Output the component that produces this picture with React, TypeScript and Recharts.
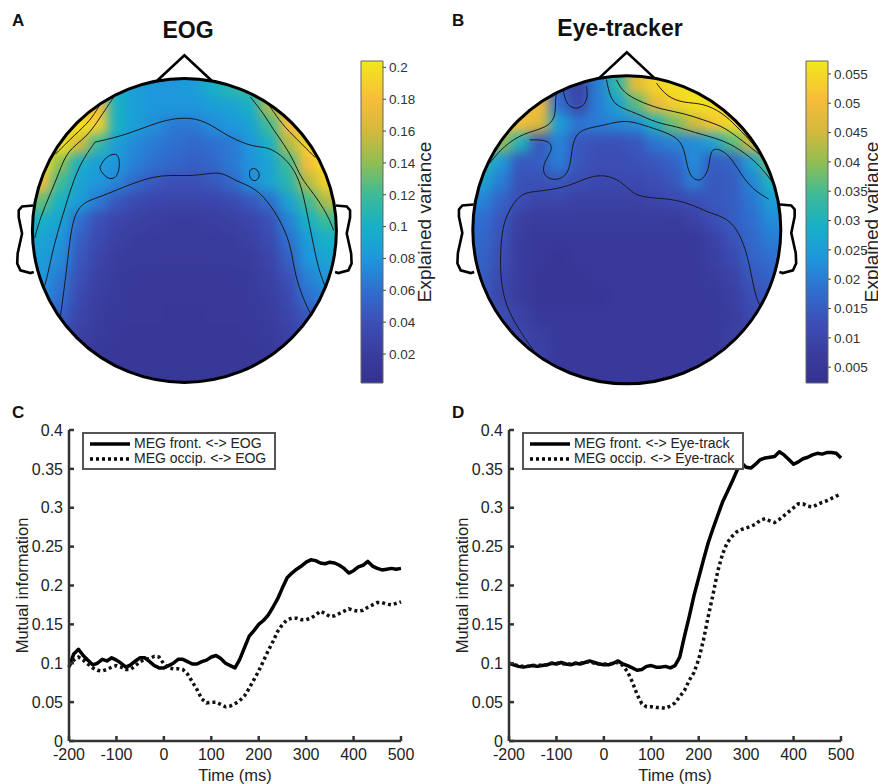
import React from "react";
import {
  ScatterChart, Scatter, XAxis, YAxis, ReferenceDot, ComposedChart, ReferenceArea,
  LineChart, Line, Legend,
} from "recharts";

// ---- line panels (C, D) ----
const times = [
  -200, -190, -180, -170, -160, -150, -140, -130, -120, -110, -100, -90, -80, -70, -60, -50, -40, -30, -20, -10,
  0, 10, 20, 30, 40, 50, 60, 70, 80, 90, 100, 110, 120, 130, 140, 150, 160, 170, 180, 190,
  200, 210, 220, 230, 240, 250, 260, 270, 280, 290, 300, 310, 320, 330, 340, 350, 360, 370, 380, 390,
  400, 410, 420, 430, 440, 450, 460, 470, 480, 490, 500,
];
const eogFront = [
  0.095, 0.112, 0.118, 0.11, 0.104, 0.098, 0.1, 0.105, 0.103, 0.107, 0.104, 0.1, 0.095, 0.098, 0.103, 0.107, 0.107, 0.102, 0.097, 0.094,
  0.094, 0.097, 0.1, 0.105, 0.105, 0.102, 0.099, 0.099, 0.102, 0.104, 0.108, 0.11, 0.106, 0.1, 0.097, 0.094, 0.105, 0.12, 0.135, 0.142,
  0.15, 0.155, 0.162, 0.172, 0.183, 0.197, 0.21, 0.216, 0.221, 0.225, 0.23, 0.233, 0.232, 0.229, 0.228, 0.23, 0.229, 0.226, 0.222, 0.216,
  0.219, 0.224, 0.226, 0.231, 0.225, 0.222, 0.22, 0.221, 0.222, 0.221, 0.222,
];
const eogOccip = [
  0.097, 0.104, 0.108, 0.104, 0.099, 0.094, 0.091, 0.09, 0.092, 0.095, 0.097, 0.095, 0.092, 0.092, 0.097, 0.102, 0.105, 0.106, 0.109, 0.108,
  0.099, 0.094, 0.093, 0.093, 0.092, 0.086, 0.076, 0.066, 0.054, 0.049, 0.05, 0.05, 0.047, 0.044, 0.045, 0.048, 0.052, 0.058, 0.068, 0.079,
  0.09, 0.103, 0.116, 0.128, 0.141, 0.15, 0.156, 0.158, 0.158, 0.156, 0.156, 0.158, 0.162, 0.167, 0.164, 0.16, 0.161, 0.164, 0.167, 0.17,
  0.168, 0.167, 0.168, 0.172, 0.175, 0.178, 0.178, 0.176, 0.175, 0.177, 0.179,
];
const eyeFront = [
  0.1, 0.098, 0.096, 0.095, 0.096, 0.097, 0.096, 0.097, 0.098, 0.1, 0.099, 0.101, 0.099, 0.098, 0.1, 0.099, 0.101, 0.103, 0.101, 0.099,
  0.098, 0.098, 0.1, 0.103, 0.099, 0.097, 0.094, 0.091, 0.092, 0.096, 0.097, 0.095, 0.095, 0.096, 0.094, 0.097, 0.108, 0.135, 0.16, 0.187,
  0.21, 0.233, 0.255, 0.273, 0.29, 0.307, 0.32, 0.333, 0.347, 0.358, 0.352, 0.351, 0.356, 0.362, 0.364, 0.365, 0.366, 0.372, 0.368, 0.362,
  0.356, 0.359, 0.363, 0.365, 0.368, 0.37, 0.369, 0.371, 0.371, 0.37, 0.364,
];
const eyeOccip = [
  0.1, 0.098, 0.097, 0.096, 0.096, 0.097, 0.097, 0.098, 0.098, 0.1, 0.1, 0.1, 0.099, 0.099, 0.1, 0.1, 0.101, 0.102, 0.1, 0.099,
  0.099, 0.099, 0.1, 0.101, 0.097, 0.089, 0.076, 0.06, 0.048, 0.044, 0.044, 0.043, 0.043, 0.042, 0.045, 0.049, 0.057, 0.065, 0.078, 0.088,
  0.105, 0.13, 0.16, 0.188, 0.218, 0.24, 0.255, 0.263, 0.269, 0.272, 0.274, 0.276, 0.279, 0.284, 0.286, 0.283, 0.281, 0.285, 0.29, 0.295,
  0.3, 0.305, 0.305, 0.302, 0.301, 0.304, 0.307, 0.309, 0.312, 0.315, 0.318,
];
const timeTicks = [-200, -100, 0, 100, 200, 300, 400, 500];
const miTicks = [0, 0.05, 0.1, 0.15, 0.2, 0.25, 0.3, 0.35, 0.4];

// ---- topographies (A, B): 16x16 samples, row 0 = front of head ----
const gridPos = [-0.9375, -0.8125, -0.6875, -0.5625, -0.4375, -0.3125, -0.1875, -0.0625, 0.0625, 0.1875, 0.3125, 0.4375, 0.5625, 0.6875, 0.8125, 0.9375];
const eogMap = [
  [0.17, 0.17, 0.17, 0.15, 0.1, 0.085, 0.08, 0.08, 0.085, 0.1, 0.11, 0.12, 0.15, 0.17, 0.17, 0.17],
  [0.18, 0.18, 0.18, 0.18, 0.1, 0.085, 0.08, 0.08, 0.08, 0.085, 0.09, 0.1, 0.15, 0.18, 0.18, 0.18],
  [0.2, 0.2, 0.2, 0.19, 0.1, 0.085, 0.075, 0.065, 0.065, 0.075, 0.08, 0.09, 0.12, 0.18, 0.19, 0.19],
  [0.2, 0.2, 0.16, 0.115, 0.085, 0.072, 0.065, 0.06, 0.055, 0.06, 0.065, 0.08, 0.1, 0.15, 0.19, 0.2],
  [0.2, 0.14, 0.1, 0.085, 0.08, 0.068, 0.06, 0.055, 0.05, 0.055, 0.065, 0.078, 0.09, 0.12, 0.18, 0.2],
  [0.18, 0.12, 0.09, 0.08, 0.07, 0.055, 0.045, 0.04, 0.04, 0.045, 0.055, 0.075, 0.09, 0.11, 0.15, 0.19],
  [0.13, 0.1, 0.085, 0.065, 0.045, 0.035, 0.03, 0.03, 0.03, 0.03, 0.035, 0.045, 0.06, 0.09, 0.12, 0.15],
  [0.1, 0.09, 0.06, 0.04, 0.03, 0.025, 0.022, 0.02, 0.02, 0.022, 0.025, 0.03, 0.04, 0.07, 0.1, 0.12],
  [0.09, 0.08, 0.05, 0.035, 0.025, 0.02, 0.018, 0.018, 0.018, 0.018, 0.02, 0.025, 0.035, 0.06, 0.085, 0.1],
  [0.085, 0.075, 0.045, 0.03, 0.02, 0.018, 0.016, 0.016, 0.016, 0.016, 0.018, 0.02, 0.03, 0.05, 0.08, 0.09],
  [0.08, 0.065, 0.04, 0.025, 0.018, 0.015, 0.015, 0.015, 0.015, 0.015, 0.015, 0.018, 0.025, 0.04, 0.07, 0.08],
  [0.075, 0.06, 0.035, 0.022, 0.016, 0.015, 0.014, 0.014, 0.014, 0.014, 0.015, 0.016, 0.022, 0.035, 0.06, 0.07],
  [0.07, 0.05, 0.03, 0.02, 0.015, 0.014, 0.014, 0.013, 0.013, 0.014, 0.014, 0.015, 0.02, 0.03, 0.045, 0.06],
  [0.04, 0.04, 0.025, 0.018, 0.014, 0.013, 0.013, 0.012, 0.012, 0.013, 0.013, 0.014, 0.018, 0.025, 0.04, 0.04],
  [0.03, 0.03, 0.02, 0.015, 0.013, 0.012, 0.012, 0.012, 0.012, 0.012, 0.012, 0.013, 0.015, 0.02, 0.03, 0.03],
  [0.02, 0.02, 0.016, 0.014, 0.012, 0.012, 0.012, 0.012, 0.012, 0.012, 0.012, 0.012, 0.014, 0.016, 0.02, 0.02],
];
const eyeMap = [
  [0.045, 0.045, 0.045, 0.045, 0.015, 0.009, 0.02, 0.032, 0.048, 0.054, 0.056, 0.056, 0.056, 0.056, 0.056, 0.056],
  [0.05, 0.05, 0.05, 0.05, 0.018, 0.01, 0.02, 0.026, 0.036, 0.048, 0.053, 0.056, 0.056, 0.055, 0.055, 0.055],
  [0.05, 0.05, 0.05, 0.047, 0.025, 0.019, 0.02, 0.021, 0.022, 0.03, 0.038, 0.045, 0.052, 0.055, 0.055, 0.055],
  [0.04, 0.04, 0.03, 0.014, 0.021, 0.014, 0.013, 0.013, 0.014, 0.019, 0.021, 0.022, 0.026, 0.036, 0.046, 0.05],
  [0.032, 0.024, 0.014, 0.015, 0.02, 0.014, 0.012, 0.012, 0.013, 0.014, 0.016, 0.022, 0.015, 0.016, 0.026, 0.038],
  [0.026, 0.02, 0.013, 0.013, 0.014, 0.012, 0.011, 0.011, 0.011, 0.012, 0.014, 0.02, 0.014, 0.015, 0.021, 0.03],
  [0.021, 0.016, 0.012, 0.01, 0.01, 0.009, 0.009, 0.009, 0.009, 0.01, 0.011, 0.012, 0.014, 0.015, 0.019, 0.025],
  [0.018, 0.014, 0.008, 0.007, 0.007, 0.007, 0.007, 0.007, 0.007, 0.007, 0.007, 0.009, 0.012, 0.015, 0.018, 0.022],
  [0.017, 0.013, 0.007, 0.006, 0.006, 0.006, 0.006, 0.006, 0.006, 0.006, 0.006, 0.006, 0.009, 0.013, 0.017, 0.02],
  [0.016, 0.012, 0.007, 0.006, 0.005, 0.006, 0.006, 0.006, 0.006, 0.006, 0.006, 0.006, 0.008, 0.011, 0.016, 0.018],
  [0.015, 0.011, 0.007, 0.005, 0.005, 0.005, 0.006, 0.006, 0.006, 0.006, 0.006, 0.006, 0.007, 0.009, 0.014, 0.016],
  [0.014, 0.01, 0.007, 0.005, 0.005, 0.005, 0.005, 0.006, 0.006, 0.006, 0.006, 0.006, 0.006, 0.008, 0.012, 0.014],
  [0.012, 0.012, 0.009, 0.006, 0.006, 0.006, 0.006, 0.006, 0.006, 0.006, 0.006, 0.006, 0.006, 0.007, 0.011, 0.012],
  [0.01, 0.01, 0.01, 0.008, 0.006, 0.006, 0.006, 0.006, 0.006, 0.006, 0.006, 0.006, 0.006, 0.008, 0.009, 0.009],
  [0.009, 0.009, 0.009, 0.009, 0.006, 0.006, 0.006, 0.006, 0.006, 0.006, 0.006, 0.006, 0.006, 0.007, 0.008, 0.008],
  [0.008, 0.008, 0.008, 0.007, 0.006, 0.006, 0.006, 0.006, 0.006, 0.006, 0.006, 0.006, 0.006, 0.007, 0.008, 0.008],
];
const eogRange = [0.0018, 0.204];
const eyeRange = [0.0023, 0.0572];
const eogTicks = [0.02, 0.04, 0.06, 0.08, 0.1, 0.12, 0.14, 0.16, 0.18, 0.2];
const eyeTicks = [0.005, 0.01, 0.015, 0.02, 0.025, 0.03, 0.035, 0.04, 0.045, 0.05, 0.055];

const eogContours = [
  [[-0.588, 0.581], [-0.39, 0.625], [-0.149, 0.724], [0.004, 0.745], [0.136, 0.724], [0.289, 0.614], [0.465, 0.544], [0.553, 0.553], [0.684, 0.46], [0.76, 0.33], [0.8, 0.15], [0.84, -0.05], [0.88, -0.25], [0.93, -0.38]],
  [[-0.588, 0.581], [-0.68, 0.45], [-0.74, 0.3], [-0.8, 0.1], [-0.86, -0.1], [-0.9, -0.3], [-0.93, -0.4]],
  [[-0.816, -0.57], [-0.772, -0.241], [-0.75, -0.02], [-0.706, 0.175], [-0.553, 0.219], [-0.377, 0.296], [-0.158, 0.373], [0.061, 0.351], [0.237, 0.395], [0.324, 0.329], [0.456, 0.285], [0.544, 0.197], [0.632, 0.066], [0.697, -0.088], [0.719, -0.241], [0.763, -0.417], [0.873, -0.636]],
  [[-0.555, 0.417], [-0.522, 0.482], [-0.445, 0.515], [-0.423, 0.461], [-0.434, 0.351], [-0.5, 0.329], [-0.555, 0.395], [-0.555, 0.417]],
  [[0.432, 0.395], [0.454, 0.413], [0.487, 0.395], [0.498, 0.351], [0.465, 0.318], [0.432, 0.34], [0.426, 0.373], [0.432, 0.395]],
  [[-0.465, 0.877], [-0.553, 0.745], [-0.64, 0.614], [-0.772, 0.526], [-0.827, 0.373], [-0.882, 0.241], [-0.947, 0.088], [-0.985, -0.05]],
  [[-0.56, 0.82], [-0.62, 0.72], [-0.72, 0.63], [-0.85, 0.5]],
  [[0.434, 0.877], [0.522, 0.768], [0.588, 0.658], [0.653, 0.57], [0.719, 0.461], [0.763, 0.351], [0.851, 0.241], [0.939, 0.11], [0.982, 0]],
  [[0.56, 0.82], [0.64, 0.7], [0.74, 0.6], [0.86, 0.48]],
];
const eyeContours = [
  [[-0.608, -0.779], [-0.716, -0.628], [-0.803, -0.455], [-0.825, -0.238], [-0.814, -0.022], [-0.781, 0.1], [-0.695, 0.238], [-0.586, 0.249], [-0.413, 0.271], [-0.284, 0.325], [-0.197, 0.357], [-0.089, 0.346], [-0.002, 0.281], [0.063, 0.216], [0.193, 0.206], [0.323, 0.195], [0.453, 0.151], [0.539, 0.108], [0.69, 0.065], [0.777, -0.13], [0.81, -0.303], [0.842, -0.455], [0.883, -0.52]],
  [[-0.89, 0.433], [-0.803, 0.541], [-0.673, 0.628], [-0.521, 0.66], [-0.457, 0.736], [-0.468, 0.866], [-0.435, 0.953]],
  [[-0.413, 0.909], [-0.392, 0.801], [-0.305, 0.779], [-0.251, 0.844], [-0.262, 0.931]],
  [[-0.63, 0.584], [-0.5, 0.584], [-0.479, 0.519], [-0.544, 0.433], [-0.544, 0.346], [-0.456, 0.314], [-0.37, 0.368], [-0.359, 0.519], [-0.327, 0.649], [-0.175, 0.671], [-0.024, 0.714], [0.08, 0.69], [0.2, 0.65], [0.34, 0.6], [0.38, 0.5], [0.4, 0.35], [0.48, 0.3], [0.54, 0.4], [0.54, 0.55], [0.66, 0.5], [0.74, 0.36], [0.82, 0.26], [0.92, 0.2]],
  [[-0.132, 0.974], [-0.11, 0.866], [-0.067, 0.801], [0.063, 0.758], [0.193, 0.693], [0.323, 0.671], [0.453, 0.628], [0.539, 0.606], [0.669, 0.563], [0.799, 0.476], [0.885, 0.39], [0.95, 0.303]],
  [[-0.067, 0.974], [-0.024, 0.888], [0.106, 0.823], [0.236, 0.779], [0.366, 0.758], [0.495, 0.714], [0.625, 0.671], [0.712, 0.606], [0.799, 0.541], [0.929, 0.433]],
  [[0.193, 0.952], [0.258, 0.866], [0.366, 0.823], [0.495, 0.823], [0.625, 0.758], [0.712, 0.671], [0.777, 0.606], [0.85, 0.52]],
];

// head outline parts, in head units (radius 1)
const noseOutline = [{ x: -0.18, y: 0.985 }, { x: 0, y: 1.152 }, { x: 0.18, y: 0.985 }];
const leftEar = [
  { x: -0.995, y: 0.164 }, { x: -1.068, y: 0.158 }, { x: -1.09, y: 0.132 }, { x: -1.09, y: 0.086 },
  { x: -1.068, y: -0.02 }, { x: -1.097, y: -0.151 }, { x: -1.1, y: -0.217 }, { x: -1.079, y: -0.263 },
  { x: -1.013, y: -0.281 }, { x: -0.991, y: -0.274 },
];
const rightEar = leftEar.map((p) => ({ x: -p.x, y: p.y }));

// colormap: [position, colour]
const PARULA: [number, string][] = [
  [0, "#343290"], [0.09, "#3a3c9d"], [0.189, "#3c4fb7"], [0.288, "#2f6fcf"], [0.387, "#1e97dc"],
  [0.486, "#17b0c7"], [0.585, "#3dbb97"], [0.683, "#8fbe54"], [0.782, "#d4b93b"], [0.881, "#f7bd3a"], [1, "#f2e81a"],
];
const FONT = "'Liberation Sans', Arial, sans-serif";

function parula(t: number) {
  const c = Math.max(0, Math.min(1, t));
  let i = 0;
  while (i < PARULA.length - 2 && c > PARULA[i + 1][0]) i++;
  const [p0, a] = PARULA[i];
  const [p1, b] = PARULA[i + 1];
  const f = (c - p0) / (p1 - p0);
  const ch = (h: string, k: number) => parseInt(h.slice(1 + 2 * k, 3 + 2 * k), 16);
  const mix = [0, 1, 2].map((k) => Math.round(ch(a, k) + (ch(b, k) - ch(a, k)) * f));
  return `rgb(${mix.join(",")})`;
}

function HeadMap({ rows, range, contours, cx, cy, radius, id }: any) {
  const size = radius * 2.4;
  const cell = radius * 0.125 + 1;
  const cells = rows.flatMap((row: number[], j: number) =>
    row.map((v, i) => ({ x: gridPos[i], y: gridPos[gridPos.length - 1 - j], v }))
  );
  const outline = { stroke: "#000", strokeWidth: 2.6, fill: "none" };
  const iso = { stroke: "#1a1a1a", strokeWidth: 1, fill: "none" };
  return (
    <div style={{ position: "absolute", left: cx - size / 2, top: cy - size / 2 }}>
      <ScatterChart width={size} height={size} margin={{ top: 0, right: 0, bottom: 0, left: 0 }}>
        <XAxis type="number" dataKey="x" domain={[-1.2, 1.2]} hide />
        <YAxis type="number" dataKey="y" domain={[-1.2, 1.2]} hide />
        <Scatter
          data={cells}
          className={`heat-${id}`}
          isAnimationActive={false}
          shape={(p: any) => (
            <rect x={p.cx - cell / 2} y={p.cy - cell / 2} width={cell} height={cell}
              fill={parula((p.payload.v - range[0]) / (range[1] - range[0]))} />
          )}
        />
        {contours.map((c: number[][], k: number) => (
          <Scatter key={k} data={c.map(([x, y]) => ({ x, y }))} line={iso} lineJointType="basis"
            className={`iso-${id}`} shape={() => <g />} isAnimationActive={false} />
        ))}
        <ReferenceDot
          x={0} y={0} r={radius}
          shape={(p: any) => (
            <g>
              <clipPath id={`clip-${id}`}>
                <circle cx={p.cx} cy={p.cy} r={radius} />
              </clipPath>
              <circle cx={p.cx} cy={p.cy} r={radius} fill="none" stroke="#000" strokeWidth={3} />
            </g>
          )}
        />
        <Scatter data={noseOutline} line={outline} shape={() => <g />} isAnimationActive={false} />
        <Scatter data={leftEar} line={outline} shape={() => <g />} isAnimationActive={false} />
        <Scatter data={rightEar} line={outline} shape={() => <g />} isAnimationActive={false} />
      </ScatterChart>
    </div>
  );
}

function ColorBar({ left, top, range, ticks, labelDx }: any) {
  return (
    <div style={{ position: "absolute", left, top }}>
      <ComposedChart width={100} height={339} margin={{ top: 10, right: 2, bottom: 7, left: 6 }} data={[{ x: 0 }, { x: 1 }]}>
        <XAxis type="number" dataKey="x" domain={[0, 1]} hide />
        <YAxis
          type="number" orientation="right" domain={range} ticks={ticks} width={70}
          allowDataOverflow axisLine={false} tickLine={{ stroke: "#444" }} tickSize={3} tickMargin={3}
          tick={{ fontSize: 13.5, fill: "#333", fontFamily: FONT }}
          label={{ value: "Explained variance", angle: -90, position: "center", dx: labelDx, style: { fontSize: 19, fill: "#222", fontFamily: FONT } }}
        />
        <ReferenceArea x1={0} x2={1} y1={range[0]} y2={range[1]} fill="url(#parulaBar)" fillOpacity={1} stroke="#666" strokeWidth={1} />
      </ComposedChart>
    </div>
  );
}

function MILegend({ payload }: any) {
  return (
    <div style={{ border: "2.5px solid #555", background: "#fff", padding: "2px 8px 2px 4px", fontFamily: FONT, fontSize: 14, color: "#222", lineHeight: "15px" }}>
      {(payload || []).map((e: any, i: number) => (
        <div key={i} style={{ display: "flex", alignItems: "center" }}>
          <svg width={44} height={14}>
            <line x1={2} x2={42} y1={7} y2={7} stroke="#000" strokeWidth={3.5} strokeDasharray={i === 1 ? "3 3" : undefined} />
          </svg>
          <span style={{ marginLeft: 2 }}>{e.value}</span>
        </div>
      ))}
    </div>
  );
}

function MIChart({ left, top, front, occip, frontName, occipName }: any) {
  const data = times.map((t, i) => ({ t, front: front[i], occip: occip[i] }));
  const axisStyle = { stroke: "#333", strokeWidth: 2.5 };
  return (
    <div style={{ position: "absolute", left, top }}>
      <LineChart width={440} height={384} data={data} margin={{ top: 30, right: 39, bottom: 0, left: 10 }}>
        <XAxis
          dataKey="t" type="number" domain={[-200, 500]} ticks={timeTicks} height={43}
          axisLine={axisStyle} tickLine={axisStyle} tickSize={-5} tickMargin={13}
          tick={{ fontSize: 16, fill: "#222", fontFamily: FONT }}
          label={{ value: "Time (ms)", position: "center", dy: 13, style: { fontSize: 16.5, fill: "#222", fontFamily: FONT } }}
        />
        <YAxis
          type="number" domain={[0, 0.4]} ticks={miTicks} width={59}
          axisLine={axisStyle} tickLine={axisStyle} tickSize={-5} tickMargin={11}
          tick={{ fontSize: 16, fill: "#222", fontFamily: FONT }}
          label={{ value: "Mutual information", angle: -90, position: "center", dx: -17, style: { fontSize: 16.5, fill: "#222", fontFamily: FONT } }}
        />
        <Legend layout="horizontal" verticalAlign="middle" align="center" content={<MILegend />}
          wrapperStyle={{ left: 82, top: 32, width: "auto", height: "auto" }} />
        <Line dataKey="front" name={frontName} stroke="#000" strokeWidth={3.5} dot={false} isAnimationActive={false} strokeLinejoin="round" />
        <Line dataKey="occip" name={occipName} stroke="#111" strokeWidth={3.5} strokeDasharray="3 3" dot={false} isAnimationActive={false} />
      </LineChart>
    </div>
  );
}

const panelLetter = (txt: string, left: number, top: number) => (
  <div style={{ position: "absolute", left, top, fontSize: 17, fontWeight: "bold", fontFamily: FONT, color: "#111" }}>{txt}</div>
);

export default function App() {
  return (
    <div style={{ position: "relative", width: 878, height: 784, overflow: "hidden", background: "#fff", fontFamily: FONT }}>
      <style>{`body{margin:0;overflow:hidden}
.heat-a{filter:url(#topoBlur);clip-path:url(#clip-a)} .heat-b{filter:url(#topoBlur);clip-path:url(#clip-b)}
.iso-a{clip-path:url(#clip-a)} .iso-b{clip-path:url(#clip-b)}`}</style>
      <svg width={0} height={0} style={{ position: "absolute" }}>
        <defs>
          <filter id="topoBlur" x="0" y="0" width="1" height="1" colorInterpolationFilters="sRGB">
            <feGaussianBlur stdDeviation={6} edgeMode="duplicate" />
            <feComponentTransfer>
              <feFuncA type="table" tableValues="1 1" />
            </feComponentTransfer>
          </filter>
          <linearGradient id="parulaBar" x1="0" y1="1" x2="0" y2="0">
            {PARULA.map(([o, c], i) => (
              <stop key={i} offset={o} stopColor={c} />
            ))}
          </linearGradient>
        </defs>
      </svg>

      {panelLetter("A", 12, 11)}
      {panelLetter("B", 452, 11)}
      {panelLetter("C", 12, 403)}
      {panelLetter("D", 452, 403)}

      <div style={{ position: "absolute", left: 138, width: 100, top: 17, textAlign: "center", fontSize: 23, fontWeight: "bold", color: "#111" }}>EOG</div>
      <div style={{ position: "absolute", left: 540, width: 160, top: 15, textAlign: "center", fontSize: 23, fontWeight: "bold", color: "#111" }}>Eye-tracker</div>

      <HeadMap rows={eogMap} range={eogRange} contours={eogContours} cx={184} cy={230} radius={152} id="a" />
      <HeadMap rows={eyeMap} range={eyeRange} contours={eyeContours} cx={627} cy={230} radius={154} id="b" />
      <ColorBar left={355} top={51} range={eogRange} ticks={eogTicks} labelDx={6} />
      <ColorBar left={800} top={51} range={eyeRange} ticks={eyeTicks} labelDx={8} />

      <MIChart left={0} top={400} front={eogFront} occip={eogOccip} frontName="MEG front. <-> EOG" occipName="MEG occip. <-> EOG" />
      <MIChart left={440} top={400} front={eyeFront} occip={eyeOccip} frontName="MEG front. <-> Eye-track" occipName="MEG occip. <-> Eye-track" />
    </div>
  );
}
